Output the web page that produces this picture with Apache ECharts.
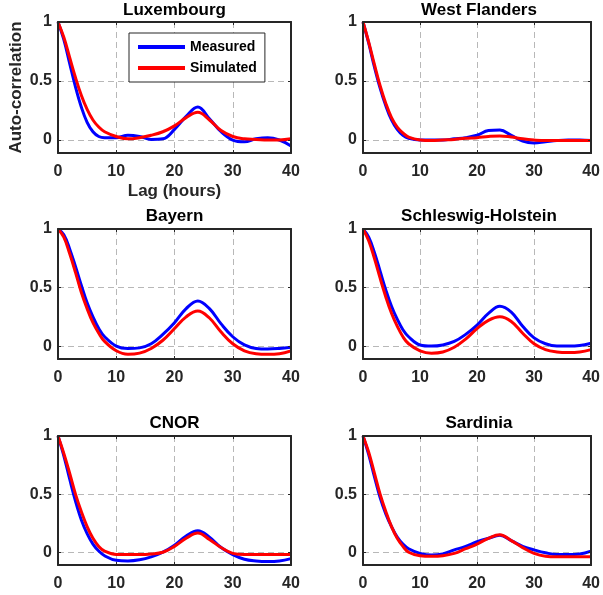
<!DOCTYPE html>
<html>
<head>
<meta charset="utf-8">
<script src="https://cdn.jsdelivr.net/npm/echarts@6/dist/echarts.min.js"></script>
<style>html,body{margin:0;padding:0;background:#fff;}#c{width:603px;height:595px;}</style>
</head>
<body>
<div id="c"></div>
<script>
const lags = [0,1,2,3,4,5,6,7,8,10,12,14,16,18,20,22,24,26,28,30,32,34,36,38,40];
const regions = ['Luxembourg','West Flanders','Bayern','Schleswig-Holstein','CNOR','Sardinia'];
const xTicks = [0,10,20,30,40];
const yTicks = [0,0.5,1];

const luxMeasured  = [1,0.85,0.65,0.45,0.28,0.15,0.07,0.03,0.02,0.02,0.04,0.03,0.005,0.01,0.09,0.2,0.28,0.18,0.07,0.0,-0.015,0.01,0.02,0.0,-0.05];
const luxSimulated = [1,0.87,0.7,0.53,0.38,0.26,0.17,0.11,0.07,0.03,0.01,0.02,0.04,0.07,0.12,0.19,0.235,0.17,0.08,0.03,0.01,0.005,0.0,0.0,0.01];
const wflMeasured  = [1,0.82,0.62,0.44,0.29,0.17,0.09,0.04,0.015,0.0,0.0,0.0,0.01,0.02,0.04,0.08,0.085,0.04,-0.01,-0.025,-0.015,-0.005,0.0,0.0,-0.005];
const wflSimulated = [1,0.83,0.64,0.46,0.31,0.19,0.11,0.06,0.025,0.0,-0.005,0.0,0.005,0.015,0.02,0.03,0.035,0.025,0.01,0.0,-0.005,-0.005,-0.005,-0.005,-0.005];
const bayMeasured  = [1,0.95,0.83,0.68,0.52,0.37,0.25,0.15,0.08,0.0,-0.02,-0.015,0.02,0.1,0.2,0.32,0.385,0.32,0.19,0.08,0.01,-0.02,-0.025,-0.02,-0.01];
const baySimulated = [1,0.93,0.79,0.63,0.46,0.32,0.2,0.11,0.04,-0.04,-0.07,-0.06,-0.02,0.05,0.15,0.25,0.3,0.24,0.12,0.02,-0.04,-0.065,-0.07,-0.065,-0.04];
const shMeasured   = [1,0.93,0.8,0.64,0.48,0.34,0.23,0.14,0.08,0.01,0.0,0.01,0.04,0.1,0.18,0.28,0.34,0.29,0.17,0.07,0.02,0.0,0.0,0.005,0.025];
const shSimulated  = [1,0.9,0.75,0.58,0.42,0.28,0.17,0.08,0.02,-0.04,-0.06,-0.05,-0.01,0.06,0.15,0.22,0.25,0.21,0.11,0.02,-0.03,-0.05,-0.055,-0.05,-0.03];
const cnMeasured   = [1,0.83,0.63,0.44,0.28,0.16,0.07,0.01,-0.03,-0.07,-0.075,-0.065,-0.04,0.0,0.06,0.14,0.185,0.13,0.04,-0.02,-0.06,-0.075,-0.08,-0.075,-0.055];
const cnSimulated  = [1,0.85,0.68,0.5,0.35,0.22,0.12,0.05,0.01,-0.02,-0.02,-0.02,-0.015,0.0,0.05,0.12,0.165,0.11,0.04,-0.01,-0.02,-0.02,-0.02,-0.02,-0.02];
const sarMeasured  = [1,0.84,0.65,0.47,0.33,0.22,0.13,0.07,0.03,-0.01,-0.025,-0.015,0.02,0.05,0.09,0.12,0.145,0.1,0.05,0.02,-0.005,-0.02,-0.02,-0.015,0.01];
const sarSimulated = [1,0.86,0.68,0.5,0.35,0.22,0.12,0.05,0.0,-0.03,-0.035,-0.03,-0.01,0.03,0.07,0.12,0.15,0.1,0.04,-0.01,-0.035,-0.04,-0.04,-0.04,-0.04];

const measured = [luxMeasured, wflMeasured, bayMeasured, shMeasured, cnMeasured, sarMeasured];
const simulated = [luxSimulated, wflSimulated, baySimulated, shSimulated, cnSimulated, sarSimulated];

const colLeft = [58, 363];
const colWidth = [233, 232];
const rowTop = [22, 229, 436];
const rowHeight = [131, 130, 129];
const titleTop = [2, 208, 415];

const axisColor = '#262626';
const gridColor = '#b8b8b8';
const font = 'Liberation Sans, Arial, Helvetica, sans-serif';

const grids = [], xAxes = [], yAxes = [], series = [], titles = [];
regions.forEach((name, i) => {
  const r = Math.floor(i / 2), c = i % 2;
  grids.push({
    left: colLeft[c], top: rowTop[r], width: colWidth[c], height: rowHeight[r],
    show: true, borderColor: axisColor, borderWidth: 0, backgroundColor: '#fff', containLabel: false
  });
  titles.push({
    text: name, left: colLeft[c] + colWidth[c] / 2, top: titleTop[r], textAlign: 'center', padding: 0,
    textStyle: { fontFamily: font, fontWeight: 'bold', fontSize: 17, color: '#000' }
  });
  // main bottom x axis (labels + grid lines, under the curves)
  xAxes.push({
    type: 'value', gridIndex: i, min: 0, max: 40, interval: 10, position: 'bottom',
    axisLine: { show: false, onZero: false },
    axisTick: { show: false },
    axisLabel: { color: axisColor, fontFamily: font, fontWeight: 'bold', fontSize: 16, margin: 11 },
    splitLine: { show: true, lineStyle: { color: gridColor, type: [6, 4], width: 1 } },
    name: i === 0 ? 'Lag (hours)' : '', nameLocation: 'middle', nameGap: 30,
    nameTextStyle: { color: axisColor, fontFamily: font, fontWeight: 'bold', fontSize: 17 },
    z: 0
  });
  // bottom+top frame axes (above the curves)
  ['bottom', 'top'].forEach(pos => xAxes.push({
    type: 'value', gridIndex: i, min: 0, max: 40, interval: 10, position: pos,
    axisLine: { show: true, onZero: false, lineStyle: { color: axisColor, width: 2 } },
    axisTick: { show: true, inside: true, length: 3, lineStyle: { color: axisColor } },
    axisLabel: { show: false }, splitLine: { show: false }, z: 4
  }));
  yAxes.push({
    type: 'value', gridIndex: i, min: -0.11, max: 1, position: 'left',
    axisLine: { show: false, onZero: false },
    axisTick: { show: false, customValues: yTicks },
    axisLabel: { color: axisColor, fontFamily: font, fontWeight: 'bold', fontSize: 16, margin: 6, customValues: yTicks },
    splitLine: { show: true, lineStyle: { color: gridColor, type: [6, 4], width: 1 } },
    name: i === 0 ? 'Auto-correlation' : '', nameLocation: 'middle', nameGap: 33, nameRotate: 90,
    nameTextStyle: { color: axisColor, fontFamily: font, fontWeight: 'bold', fontSize: 17 },
    z: 0
  });
  ['left', 'right'].forEach(pos => yAxes.push({
    type: 'value', gridIndex: i, min: -0.11, max: 1, position: pos,
    axisLine: { show: true, onZero: false, lineStyle: { color: axisColor, width: 2 } },
    axisTick: { show: true, inside: true, length: 3, customValues: yTicks, lineStyle: { color: axisColor } },
    axisLabel: { show: false, customValues: yTicks }, splitLine: { show: false }, z: 4
  }));
  series.push({
    name: 'Measured', type: 'line', xAxisIndex: 3 * i, yAxisIndex: 3 * i, symbol: 'none', smooth: 0.4,
    lineStyle: { color: '#0000ff', width: 3 }, itemStyle: { color: '#0000ff' },
    data: lags.map((l, k) => [l, measured[i][k]])
  });
  series.push({
    name: 'Simulated', type: 'line', xAxisIndex: 3 * i, yAxisIndex: 3 * i, symbol: 'none', smooth: 0.4,
    lineStyle: { color: '#ff0000', width: 3 }, itemStyle: { color: '#ff0000' },
    data: lags.map((l, k) => [l, simulated[i][k]])
  });
});

const chart = echarts.init(document.getElementById('c'), null, { renderer: 'canvas' });
chart.setOption({
  animation: false,
  backgroundColor: '#fff',
  title: titles,
  legend: {
    data: ['Measured', 'Simulated'], orient: 'vertical', left: 129, top: 33,
    backgroundColor: '#fff', borderColor: axisColor, borderWidth: 1,
    padding: [7, 8, 7, 9], itemGap: 7, itemWidth: 47, itemHeight: 4, icon: 'rect',
    textStyle: { fontFamily: font, fontWeight: 'bold', fontSize: 14, color: '#000', lineHeight: 14 }
  },
  grid: grids, xAxis: xAxes, yAxis: yAxes, series: series
});
</script>
</body>
</html>
